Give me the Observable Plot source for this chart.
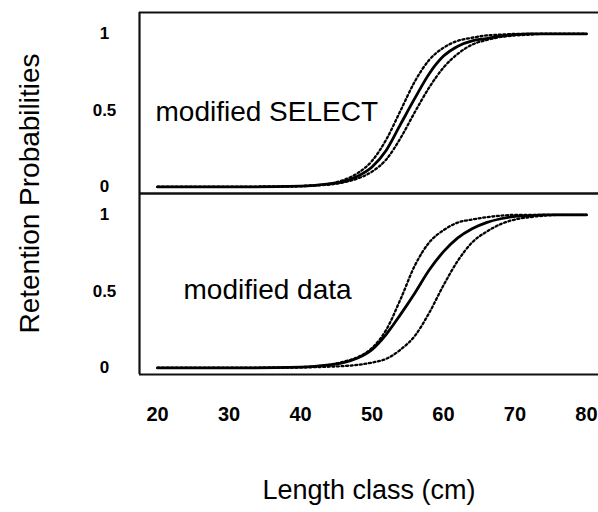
<!DOCTYPE html>
<html><head><meta charset="utf-8">
<script src="https://cdn.jsdelivr.net/npm/d3@7"></script>
<script src="https://cdn.jsdelivr.net/npm/@observablehq/plot@0.6"></script>
<style>body{margin:0;background:#fff}</style>
</head><body><div id="chart"></div>
<script>
// Length classes (cm) at which the curves were read
const lengths = [20, 30, 40, 42, 44, 46, 48, 50, 52, 54, 56, 58, 60, 62, 64, 66, 68, 70, 72, 74, 76, 80];
// Panel 1: modified SELECT
const selectFit   = [0, 0, 0.005, 0.01, 0.02, 0.035, 0.07, 0.13, 0.24, 0.41, 0.58, 0.74, 0.855, 0.92, 0.955, 0.97, 0.985, 0.995, 1, 1, 1, 1];
const selectLower = [0, 0, 0.005, 0.01, 0.02, 0.045, 0.09, 0.17, 0.31, 0.50, 0.69, 0.83, 0.91, 0.955, 0.975, 0.99, 0.995, 1, 1, 1, 1, 1];
const selectUpper = [0, 0, 0.005, 0.01, 0.015, 0.03, 0.055, 0.10, 0.18, 0.32, 0.49, 0.65, 0.78, 0.87, 0.93, 0.96, 0.98, 0.99, 0.995, 1, 1, 1];
// Panel 2: modified data
const dataFit     = [0, 0, 0.005, 0.01, 0.02, 0.035, 0.065, 0.12, 0.22, 0.35, 0.49, 0.64, 0.76, 0.85, 0.91, 0.95, 0.975, 0.99, 0.995, 1, 1, 1];
const dataLower   = [0, 0, 0.005, 0.01, 0.02, 0.04, 0.07, 0.13, 0.25, 0.45, 0.67, 0.82, 0.90, 0.95, 0.97, 0.985, 0.995, 1, 1, 1, 1, 1];
const dataUpper   = [0, 0, 0.003, 0.005, 0.008, 0.012, 0.02, 0.035, 0.06, 0.12, 0.21, 0.36, 0.54, 0.70, 0.82, 0.89, 0.94, 0.97, 0.985, 0.995, 1, 1];

const panels = ["modified SELECT", "modified data"];
const xTicks = [20, 30, 40, 50, 60, 70, 80];
const yTicks = [0, 0.5, 1];
const xLabel = "Length class (cm)";
const yLabel = "Retention Probabilities";

const series = [
  {panel: panels[0], kind: "fit", values: selectFit},
  {panel: panels[0], kind: "band", values: selectLower},
  {panel: panels[0], kind: "band", values: selectUpper},
  {panel: panels[1], kind: "fit", values: dataFit},
  {panel: panels[1], kind: "band", values: dataLower},
  {panel: panels[1], kind: "band", values: dataUpper}
];
const rows = series.flatMap((s, i) => lengths.map((L, j) => ({id: i, panel: s.panel, kind: s.kind, x: L, y: s.values[j]})));

const xDom = [17.48, 81.68];
const yDom = [-0.043, 1.14];

const chart = Plot.plot({
  width: 598,
  height: 512,
  marginLeft: 139,
  marginRight: 0,
  marginTop: 12,
  marginBottom: 138,
  style: {fontFamily: "'Liberation Sans', Arial, Helvetica, sans-serif", background: "#fff", color: "#000"},
  x: {domain: xDom},
  y: {domain: yDom},
  fy: {domain: panels, padding: 0},
  marks: [
    Plot.ruleY([yDom[1], yDom[0]], {stroke: "#111", strokeWidth: 2.2}),
    Plot.ruleX([xDom[0]], {stroke: "#111", strokeWidth: 2.2}),
    Plot.line(rows.filter(d => d.kind === "band"), {x: "x", y: "y", z: "id", fy: "panel", curve: "monotone-x", stroke: "#000", strokeWidth: 2.3, strokeDasharray: "2,2.6"}),
    Plot.line(rows.filter(d => d.kind === "fit"), {x: "x", y: "y", z: "id", fy: "panel", curve: "monotone-x", stroke: "#000", strokeWidth: 2.8}),
    Plot.text([panels[0]], {fy: d => d, text: d => d, frameAnchor: "left", y: 0.49, dx: 16, textAnchor: "start", fontSize: 28, fill: "#000"}),
    Plot.text([panels[1]], {fy: d => d, text: d => d, frameAnchor: "left", y: 0.51, dx: 44, textAnchor: "start", fontSize: 28, fill: "#000"}),
    Plot.axisY({ticks: yTicks, tickSize: 0, tickPadding: 35, textAnchor: "middle", tickFormat: d => d === 0.5 ? "0.5" : String(d), fontSize: 17, fontWeight: "bold", label: null}),
    Plot.axisFy({anchor: "left", tickSize: 0, tickFormat: () => "", label: yLabel, labelAnchor: "center", labelOffset: 120, labelArrow: "none", fontSize: 28}),
    Plot.axisX({ticks: xTicks, tickSize: 0, tickPadding: 32, fontSize: 20, fontWeight: "bold", label: null}),
    Plot.axisX({ticks: [], tickSize: 0, label: xLabel, labelAnchor: "center", labelOffset: 124, labelArrow: "none", fontSize: 27})
  ]
});
document.getElementById("chart").appendChild(chart);
</script>
</body></html>
